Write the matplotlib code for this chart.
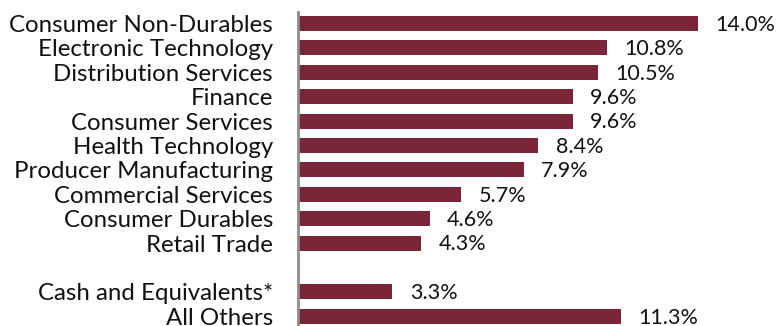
import matplotlib.pyplot as plt

# sector weights (%)
categories = ['Consumer Non-Durables', 'Electronic Technology', 'Distribution Services',
              'Finance', 'Consumer Services', 'Health Technology',
              'Producer Manufacturing', 'Commercial Services', 'Consumer Durables',
              'Retail Trade', 'Cash and Equivalents*', 'All Others']
values = [14.0, 10.8, 10.5, 9.6, 9.6, 8.4, 7.9, 5.7, 4.6, 4.3, 3.3, 11.3]
positions = [0, 1, 2, 3, 4, 5, 6, 7, 8, 9, 11, 12]

plt.rcParams['font.family'] = ['Lato', 'DejaVu Sans']

fig = plt.figure(figsize=(7.81, 3.26), dpi=100)
ax = fig.add_axes([298 / 781, 0, 16 * 28.6 / 781, 314 / 326])

bar_color = '#7a2638'
ax.barh(positions, values, height=0.615, color=bar_color)

for p, v in zip(positions, values):
    ax.annotate(f'{v:.1f}%', xy=(v, p), xytext=(12.5, -1), textcoords='offset points',
                ha='left', va='center', fontsize=15.5, color='#111111')

ax.set_xlim(0, 16)
ax.set_ylim(12.40, -0.47)
ax.set_yticks(positions)
ax.set_yticklabels(categories, fontsize=17.3, color='#111111')
ax.tick_params(axis='y', length=0, pad=18)
ax.set_xticks([])

for s in ['top', 'right', 'bottom']:
    ax.spines[s].set_visible(False)
ax.spines['left'].set_color('#8c8c8c')
ax.spines['left'].set_linewidth(2)

fig.savefig('out.png', dpi=100)
plt.close(fig)
